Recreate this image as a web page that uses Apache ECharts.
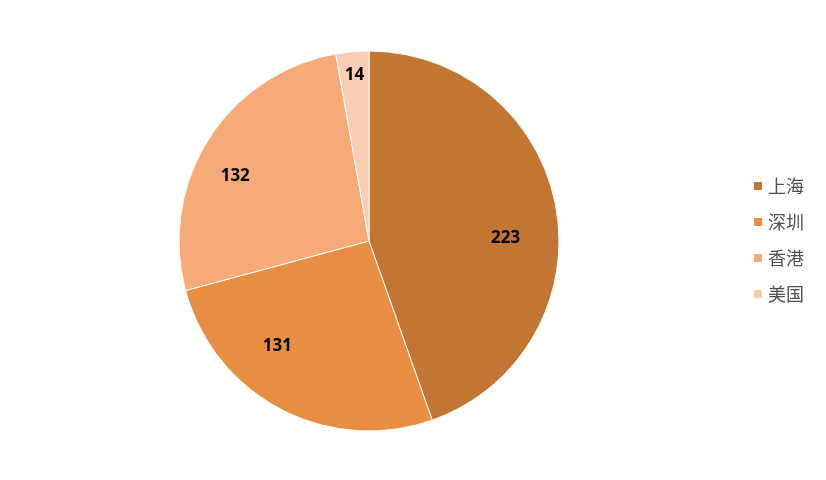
<!DOCTYPE html>
<html><head><meta charset="utf-8">
<script src="https://cdn.jsdelivr.net/npm/echarts@6/dist/echarts.min.js"></script>
<style>html,body{margin:0;padding:0;background:#fff}#c{width:826px;height:480px}</style>
</head><body><div id="c"></div>
<script>
const categories = ['上海', '深圳', '香港', '美国'];
const values = [223, 131, 132, 14];
const colors = ['#C37534', '#E98D40', '#F6AA78', '#F9CDB4'];
const labelOffsets = [[40, 14], [-46, 18], [-51, -12], [-6, -68]];

const chart = echarts.init(document.getElementById('c'));
chart.setOption({
  animation: false,
  legend: {
    orient: 'vertical',
    left: 752,
    top: 177,
    padding: 0,
    itemWidth: 10,
    itemHeight: 10,
    itemGap: 18,
    icon: 'rect',
    textStyle: { fontFamily: 'Noto Sans CJK SC', fontSize: 18, color: '#505050' },
    data: categories
  },
  series: [{
    type: 'pie',
    center: [369, 241],
    radius: 190,
    startAngle: 90,
    clockwise: true,
    avoidLabelOverlap: false,
    itemStyle: { borderColor: '#fff', borderWidth: 1 },
    label: {
      show: true,
      position: 'inside',
      formatter: '{c}',
      fontFamily: 'Open Sans',
      fontWeight: 'bold',
      fontSize: 17,
      color: '#000'
    },
    labelLine: { show: false },
    data: categories.map((n, i) => ({
      name: n, value: values[i],
      itemStyle: { color: colors[i] },
      label: { offset: labelOffsets[i] }
    }))
  }]
});
</script></body></html>
